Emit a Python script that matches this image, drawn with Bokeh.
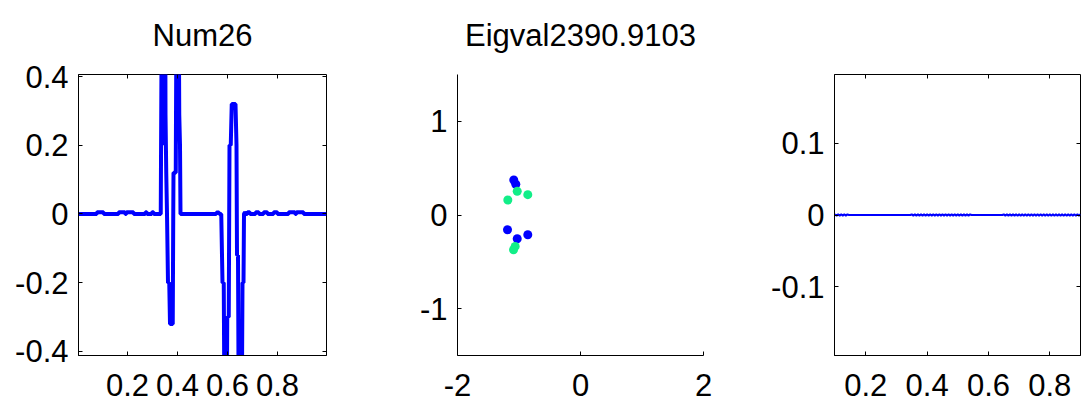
from bokeh.plotting import figure
from bokeh.layouts import row
from bokeh.models import Range1d, FixedTicker, LinearAxis
from bokeh.embed import file_html
from bokeh.resources import INLINE

FONT = "Liberation Sans"
FS = "31px"
BLUE = "#0000FF"
GREEN = "#12EE88"

# ---------------- Panel 1 : Num26 ----------------
num26_title = "Num26"
num26_samples = [
    (0.004, 0.0), (0.077, 0.0), (0.078, 0.005), (0.104, 0.005), (0.105, 0.0),
    (0.164, 0.0), (0.165, 0.005), (0.190, 0.005), (0.191, 0.0), (0.195, 0.0),
    (0.196, 0.005), (0.224, 0.005), (0.225, 0.0), (0.271, 0.0), (0.272, 0.005),
    (0.277, 0.005), (0.278, 0.0), (0.297, 0.0), (0.298, 0.005), (0.304, 0.005),
    (0.305, 0.0), (0.333, 0.0),
    (0.337, 0.6), (0.343, 0.6), (0.344, 0.2), (0.347, 0.6), (0.351, 0.6),
    (0.352, 0.29), (0.355, 0.12), (0.358, 0.0), (0.362, -0.2), (0.367, -0.2),
    (0.370, -0.32), (0.381, -0.32), (0.383, 0.0), (0.384, 0.12), (0.393, 0.12),
    (0.396, 0.6), (0.405, 0.6), (0.407, 0.29), (0.410, 0.2), (0.412, 0.0),
    (0.555, 0.0), (0.556, 0.004), (0.566, 0.004), (0.567, 0.0), (0.575, 0.0),
    (0.580, -0.2), (0.585, -0.2), (0.588, -0.6), (0.597, -0.6), (0.599, -0.3),
    (0.605, -0.3), (0.608, 0.2), (0.613, 0.2), (0.617, 0.32), (0.632, 0.32),
    (0.636, 0.2), (0.638, -0.12), (0.642, -0.12), (0.645, -0.6), (0.657, -0.6),
    (0.660, -0.2), (0.664, -0.2), (0.666, 0.0), (0.670, 0.005), (0.675, 0.0),
    (0.679, 0.0), (0.680, 0.005), (0.689, 0.005), (0.690, 0.0), (0.712, 0.0),
    (0.713, 0.005), (0.725, 0.005), (0.726, 0.0), (0.744, 0.0), (0.745, 0.005),
    (0.759, 0.005), (0.760, 0.0), (0.784, 0.0), (0.785, 0.005), (0.799, 0.005),
    (0.800, 0.0), (0.844, 0.0), (0.845, 0.005), (0.870, 0.005), (0.871, 0.0),
    (0.875, 0.0), (0.876, 0.005), (0.904, 0.005), (0.905, 0.0), (0.996, 0.0),
]
num26_x = [s[0] for s in num26_samples]
num26_y = [s[1] for s in num26_samples]
num26_xticks = [0.2, 0.4, 0.6, 0.8]
num26_xlabels = ["0.2", "0.4", "0.6", "0.8"]
num26_yticks = [-0.4, -0.2, 0, 0.2, 0.4]
num26_ylabels = ["-0.4", "-0.2", "0", "0.2", "0.4"]

# ---------------- Panel 2 : eigenvalues ----------------
eig_title = "Eigval2390.9103"
eig_blue_re = [-1.085, -1.052, -1.187, -1.029, -0.857]
eig_blue_im = [0.374, 0.328, -0.157, -0.253, -0.211]
eig_green_re = [-1.029, -0.857, -1.182, -1.062, -1.089]
eig_green_im = [0.253, 0.217, 0.160, -0.335, -0.371]
eig_xticks = [-2, 0, 2]
eig_xlabels = ["-2", "0", "2"]
eig_yticks = [-1, 0, 1]
eig_ylabels = ["-1", "0", "1"]

# ---------------- Panel 3 : near-zero curve (x = 0.100 .. 0.900, step 0.005) ----------------
flat_x = [round(0.100 + 0.005 * i, 3) for i in range(161)]
flat_y = (
    # 0.100 - 0.140 : small oscillation
    [0.0009, -0.0009, 0.0009, -0.0009, 0.0009, -0.0009, 0.0009, -0.0009, 0.0009]
    # 0.145 - 0.345 : flat
    + [0, 0, 0, 0, 0, 0, 0, 0, 0, 0,
       0, 0, 0, 0, 0, 0, 0, 0, 0, 0,
       0, 0, 0, 0, 0, 0, 0, 0, 0, 0,
       0, 0, 0, 0, 0, 0, 0, 0, 0, 0, 0]
    # 0.350 - 0.540 : small oscillation
    + [0.0009, -0.0009, 0.0009, -0.0009, 0.0009, -0.0009, 0.0009, -0.0009, 0.0009, -0.0009,
       0.0009, -0.0009, 0.0009, -0.0009, 0.0009, -0.0009, 0.0009, -0.0009, 0.0009, -0.0009,
       0.0009, -0.0009, 0.0009, -0.0009, 0.0009, -0.0009, 0.0009, -0.0009, 0.0009, -0.0009,
       0.0009, -0.0009, 0.0009, -0.0009, 0.0009, -0.0009, 0.0009, -0.0009, 0.0009]
    # 0.545 - 0.645 : flat
    + [0, 0, 0, 0, 0, 0, 0, 0, 0, 0,
       0, 0, 0, 0, 0, 0, 0, 0, 0, 0, 0]
    # 0.650 - 0.900 : small oscillation
    + [0.0009, -0.0009, 0.0009, -0.0009, 0.0009, -0.0009, 0.0009, -0.0009, 0.0009, -0.0009,
       0.0009, -0.0009, 0.0009, -0.0009, 0.0009, -0.0009, 0.0009, -0.0009, 0.0009, -0.0009,
       0.0009, -0.0009, 0.0009, -0.0009, 0.0009, -0.0009, 0.0009, -0.0009, 0.0009, -0.0009,
       0.0009, -0.0009, 0.0009, -0.0009, 0.0009, -0.0009, 0.0009, -0.0009, 0.0009, -0.0009,
       0.0009, -0.0009, 0.0009, -0.0009, 0.0009, -0.0009, 0.0009, -0.0009, 0.0009, -0.0009, 0.0009]
)
flat_x = flat_x[:len(flat_y)]
flat_xticks = [0.2, 0.4, 0.6, 0.8]
flat_xlabels = ["0.2", "0.4", "0.6", "0.8"]
flat_yticks = [-0.1, 0, 0.1]
flat_ylabels = ["-0.1", "0", "0.1"]


def style_axis(ax, ticks, labels, standoff):
    ax.ticker = FixedTicker(ticks=ticks)
    ax.major_label_overrides = dict(zip(ticks, labels))
    ax.major_label_text_font = FONT
    ax.major_label_text_font_size = FS
    ax.major_label_text_color = "black"
    ax.major_label_standoff = standoff
    ax.major_tick_in = 4
    ax.major_tick_out = 0
    ax.major_tick_line_color = "black"
    ax.minor_tick_line_color = None
    ax.axis_line_color = "black"
    ax.axis_line_width = 1


def tick_axis(p, loc, ticks, show_ticks, title=None):
    # axis carrying only inward ticks (box style); on top it also carries the panel title
    ax = LinearAxis(
        ticker=FixedTicker(ticks=ticks),
        major_label_overrides={t: "" for t in ticks},
        major_label_text_font_size="0px",
        major_label_standoff=0,
        major_tick_in=4,
        major_tick_out=0,
        major_tick_line_color="black" if show_ticks else None,
        minor_tick_line_color=None,
        axis_line_color=None,
    )
    if title:
        ax.axis_label = title
        ax.axis_label_text_font = FONT
        ax.axis_label_text_font_size = FS
        ax.axis_label_text_font_style = "normal"
        ax.axis_label_text_color = "black"
        ax.axis_label_standoff = 22
    p.add_layout(ax, loc)


def make_fig(title, xr, yr, fw, left, right, xt, xl, yt, yl, box):
    p = figure(
        frame_width=fw, frame_height=281,
        x_range=Range1d(*xr), y_range=Range1d(*yr),
        output_backend="svg", toolbar_location=None,
        min_border_left=left, min_border_right=right,
        min_border_top=74, min_border_bottom=53,
        background_fill_color="white", border_fill_color="white",
    )
    p.xgrid.visible = False
    p.ygrid.visible = False
    style_axis(p.xaxis[0], xt, xl, 18)
    style_axis(p.yaxis[0], yt, yl, 10)
    tick_axis(p, "above", xt, box, title)
    if box:
        p.outline_line_color = "black"
        p.outline_line_width = 1
        tick_axis(p, "right", yt, True)
    else:
        p.outline_line_color = None
    return p


p1 = make_fig(num26_title, (0.004, 0.996), (-0.412, 0.406), 248, 78, 60,
              num26_xticks, num26_xlabels, num26_yticks, num26_ylabels, True)
p1.line(num26_x, num26_y, line_color=BLUE, line_width=4)

p2 = make_fig(eig_title, (-2, 2), (-1.5, 1.5), 246, 71, 60,
              eig_xticks, eig_xlabels, eig_yticks, eig_ylabels, False)
p2.scatter(eig_blue_re, eig_blue_im, size=9, fill_color=BLUE, line_color=None)
p2.scatter(eig_green_re, eig_green_im, size=9, fill_color=GREEN, line_color=None)

p3 = make_fig(None, (0.098, 0.9), (-0.196, 0.196), 246, 71, 2,
              flat_xticks, flat_xlabels, flat_yticks, flat_ylabels, True)
p3.line(flat_x, flat_y, line_color=BLUE, line_width=2)

layout = row(p1, p2, p3)
open("out.html", "w").write(file_html(layout, INLINE))
